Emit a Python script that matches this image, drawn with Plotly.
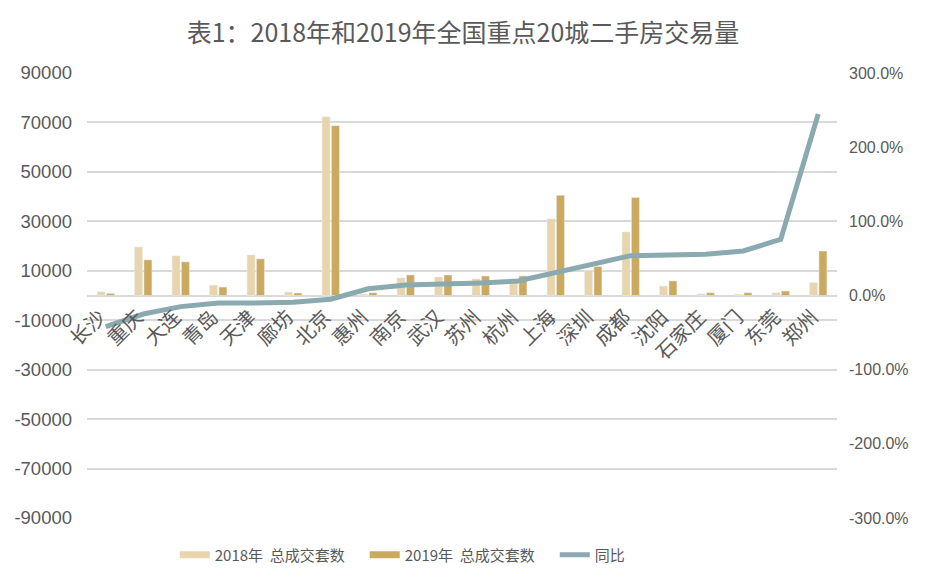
import plotly.graph_objects as go

cities = ["长沙", "重庆", "大连", "青岛", "天津", "廊坊", "北京", "惠州", "南京", "武汉",
          "苏州", "杭州", "上海", "深圳", "成都", "沈阳", "石家庄", "厦门", "东莞", "郑州"]
deals_2018 = [1500, 19600, 16000, 4200, 16400, 1400, 72300, 600, 7100, 7500,
              6700, 5500, 31000, 10300, 25700, 3800, 600, 500, 1100, 5200]
deals_2019 = [850, 14400, 13600, 3400, 14800, 1000, 68700, 1100, 8300, 8300,
              7900, 7900, 40500, 11700, 39600, 5900, 1100, 1100, 1800, 18000]
yoy = [-0.42, -0.25, -0.15, -0.10, -0.10, -0.09, -0.05, 0.09, 0.14, 0.15,
       0.17, 0.195, 0.31, 0.41, 0.537, 0.546, 0.555, 0.60, 0.758, 2.447]

left_tickvals = [90000, 70000, 50000, 30000, 10000, -10000, -30000, -50000, -70000, -90000]
left_ticktext = ["90000", "70000", "50000", "30000", "10000", "-10000", "-30000", "-50000", "-70000", "-90000"]
right_tickvals = [3, 2, 1, 0, -1, -2, -3]
right_ticktext = ["300.0%", "200.0%", "100.0%", "0.0%", "-100.0%", "-200.0%", "-300.0%"]

name_2018 = "2018年  总成交套数"
name_2019 = "2019年  总成交套数"
name_yoy = "同比"
title_text = "表1：2018年和2019年全国重点20城二手房交易量"

c2018 = "#E8D5AC"
c2019 = "#CBAA5F"
cline = "#8AAAB0"
grid = "#D9D9D9"
txt = "#595959"
cjk = "Noto Sans CJK SC"
num = "Liberation Sans"

fig = go.Figure()
fig.add_trace(go.Bar(x=cities, y=deals_2018, name=name_2018, marker_color=c2018,
                     showlegend=False, legendgroup="a"))
fig.add_trace(go.Bar(x=cities, y=deals_2019, name=name_2019, marker_color=c2019,
                     showlegend=False, legendgroup="b"))
fig.add_trace(go.Scatter(x=cities, y=yoy, name=name_yoy, mode="lines", yaxis="y2",
                         line=dict(color=cline, width=5), showlegend=False, legendgroup="c"))
# legend swatches (no data)
for nm, col, w, g in [(name_2018, c2018, 7, "a"), (name_2019, c2019, 7, "b"), (name_yoy, cline, 5, "c")]:
    fig.add_trace(go.Scatter(x=[None], y=[None], name=nm, mode="lines", legendgroup=g,
                             line=dict(color=col, width=w), yaxis="y2"))

fig.update_layout(
    width=920, height=575,
    margin=dict(l=79, r=91, t=65, b=65, autoexpand=False),
    paper_bgcolor="white", plot_bgcolor="white",
    title=dict(text=title_text, x=0.4946, xanchor="center", y=0.9565, yanchor="middle",
               font=dict(family=cjk, size=25, color=txt)),
    barmode="group", bargap=0.5, bargroupgap=0.15,
    xaxis=dict(type="category", anchor="free", position=0.5, tickangle=-45,
               showgrid=False, showline=False, ticks="",
               ticklabelshift=-6, ticklabelstandoff=5,
               tickfont=dict(family=cjk, size=20, color=txt)),
    yaxis=dict(range=[-90000, 90000], tickvals=left_tickvals, ticktext=left_ticktext,
               showgrid=True, gridcolor=grid, gridwidth=1.5, zeroline=True,
               zerolinecolor=grid, zerolinewidth=1.5, ticklabelstandoff=14,
               tickfont=dict(family=num, size=18.5, color=txt)),
    yaxis2=dict(range=[-3, 3], tickvals=right_tickvals, ticktext=right_ticktext,
                overlaying="y", side="right", showgrid=False, zeroline=False,
                ticklabelstandoff=11, tickfont=dict(family=num, size=16, color=txt)),
    legend=dict(orientation="h", x=0.117, xanchor="left", y=-0.083, yanchor="middle",
                entrywidth=145, entrywidthmode="pixels",
                font=dict(family=cjk, size=15, color=txt), bgcolor="rgba(0,0,0,0)"),
)
fig.write_html("out.html")
